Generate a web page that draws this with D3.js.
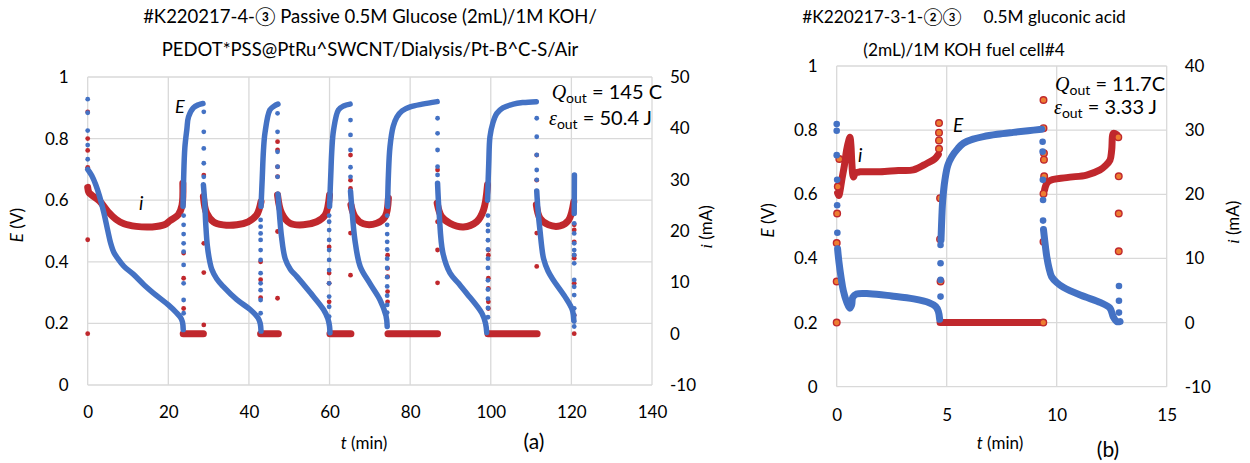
<!DOCTYPE html>
<html>
<head>
<meta charset="utf-8">
<script src="https://cdn.jsdelivr.net/npm/d3@7"></script>
<style>
  body { margin: 0; background: #fff; }
  svg text { font-family: Lato, "Open Sans", "DejaVu Sans", sans-serif; fill: #000; }
</style>
</head>
<body>
<div id="svg_chart"></div>
<script>
///////////// Chapter 1. Data //////////////
// panel (a): glucose cell, t in min, E in V, i in mA
var a_time_ticks = [0, 20, 40, 60, 80, 100, 120, 140];
var a_e_ticks = [0, 0.2, 0.4, 0.6, 0.8, 1];
var a_i_ticks = [-10, 0, 10, 20, 30, 40, 50];
var a_title = ['#K220217-4-③ Passive 0.5M Glucose (2mL)/1M KOH/',
               'PEDOT*PSS@PtRu^SWCNT/Dialysis/Pt-B^C-S/Air'];
var a_q_out = '145 C';
var a_eps_out = '50.4 J';

// dense stretches of the E series (discharge / open circuit)
var a_e_curves = [
  [[0,0.70],[1,0.68],[2,0.65],[3,0.61],[4,0.56],[5,0.50],[5.7,0.46],[6.5,0.43],[7.5,0.41],[9,0.385],[11.3,0.36],[14,0.325],[17.1,0.29],[20,0.26],[22,0.235],[23,0.22],[23.5,0.205],[23.7,0.18]],
  [[23.65,0.58],[23.8,0.67],[24.1,0.77],[24.6,0.83],[25,0.87],[26.2,0.90],[27.5,0.91],[28.6,0.914]],
  [[28.7,0.65],[29,0.6],[29.3,0.52],[29.7,0.45],[30.3,0.40],[30.8,0.375],[32,0.345],[33.6,0.32],[37,0.277],[40.3,0.245],[42.3,0.217],[42.8,0.2],[43,0.175]],
  [[43,0.58],[43.3,0.67],[43.6,0.76],[44,0.82],[45.2,0.893],[46.3,0.906],[47.2,0.912]],
  [[47.2,0.62],[47.6,0.55],[48.1,0.48],[49,0.41],[50.3,0.375],[51.9,0.352],[55.2,0.30],[58.5,0.245],[59.6,0.215],[60,0.19],[60.1,0.17]],
  [[60,0.58],[60.3,0.68],[60.6,0.77],[61,0.828],[62.2,0.893],[63.5,0.906],[65.1,0.912]],
  [[65.2,0.63],[65.5,0.58],[66.3,0.47],[67.6,0.385],[70,0.33],[72.5,0.277],[74,0.225],[74.3,0.19]],
  [[74.4,0.58],[74.6,0.68],[75,0.774],[75.8,0.84],[76.7,0.87],[78,0.89],[80,0.903],[83,0.912],[86.7,0.92]],
  [[86.8,0.655],[87.2,0.557],[88.1,0.43],[89.9,0.363],[92,0.33],[94,0.298],[97.8,0.233],[98.7,0.2],[99,0.17]],
  [[99.2,0.6],[99.5,0.72],[99.8,0.806],[100.5,0.85],[101.5,0.882],[103,0.9],[105.6,0.912],[108,0.917],[111.3,0.92]],
  [[111.4,0.63],[111.7,0.57],[112.2,0.503],[113.1,0.41],[114.2,0.37],[115.5,0.341],[118.4,0.287],[120.2,0.245],[120.6,0.21]],
  [[120.7,0.557],[120.75,0.682]]
];
// isolated E points at the switching moments
var a_e_dots = [
  [0,0.928],[0,0.884],[0,0.826],[0,0.779],[0,0.733],
  [23.8,0.55],[23.8,0.52],[23.8,0.49],[23.8,0.46],[23.8,0.433],[23.8,0.39],[23.8,0.33],[23.8,0.276],[23.8,0.233],
  [28.8,0.887],[28.8,0.822],[28.8,0.768],[28.8,0.72],[28.8,0.676],
  [42.9,0.536],[42.9,0.514],[42.9,0.492],[42.9,0.471],[42.9,0.438],[42.9,0.406],[42.9,0.363],[42.9,0.33],[42.9,0.308],[42.9,0.276],[42.9,0.233],
  [47.1,0.882],[47.1,0.822],[47.1,0.757],[47.1,0.709],[47.1,0.676],
  [59.9,0.55],[59.9,0.53],[59.9,0.503],[59.9,0.471],[59.9,0.438],[59.9,0.406],[59.9,0.373],[59.9,0.33],[59.9,0.287],[59.9,0.254],[59.9,0.222],
  [65.2,0.86],[65.2,0.812],[65.2,0.763],[65.2,0.707],[65.2,0.676],
  [74.3,0.55],[74.3,0.52],[74.3,0.49],[74.3,0.465],[74.3,0.44],[74.3,0.41],[74.3,0.38],[74.3,0.35],[74.3,0.32],[74.3,0.29],[74.3,0.26],[74.3,0.235],
  [86.8,0.866],[86.8,0.817],[86.8,0.763],[86.8,0.709],[86.8,0.682],
  [99.3,0.55],[99.3,0.52],[99.3,0.5],[99.3,0.47],[99.3,0.44],[99.3,0.41],[99.3,0.38],[99.3,0.34],[99.3,0.31],[99.3,0.28],[99.3,0.25],[99.3,0.22],
  [111.4,0.866],[111.4,0.806],[111.4,0.747],[111.4,0.698],[111.4,0.666],
  [120.7,0.525],[120.7,0.492],[120.7,0.46],[120.7,0.438],[120.7,0.422],[120.7,0.395],[120.7,0.341],[120.7,0.319],[120.7,0.292],[120.7,0.249],[120.7,0.227],[120.7,0.206],[120.7,0.19]
];
var a_i_curves = [
  [[0,28.5],[0.3,27.5],[1,27],[3,25.8],[5,23.8],[7,22.3],[9,21.4],[12,20.9],[16,20.8],[19,21.2],[20.4,22],[22.5,23.2],[23.4,25],[23.6,29.3]],
  [[23.7,0],[28.7,0]],
  [[28.7,26.7],[29.5,23.5],[31.2,21.8],[33.6,21.2],[37,21.2],[39.8,21.8],[41.9,23.1],[43,25.7]],
  [[42.9,0],[47.3,0]],
  [[47.1,27],[48.1,23.5],[50.2,21.5],[53.5,21.2],[56.8,21.8],[58.9,23.1],[60,27]],
  [[60.1,0],[65.3,0]],
  [[65.3,25.1],[66.3,22.8],[68.4,21.4],[71.7,21.5],[73.8,22.8],[74.6,26.4]],
  [[74.5,0],[86.8,0]],
  [[86.7,25.4],[87.8,22.8],[89.9,21.5],[93.2,20.8],[96.5,21.8],[98.2,24.1],[99.2,29]],
  [[99.3,0],[111.5,0]],
  [[111.3,25.1],[112.2,22.5],[114.3,21.2],[117.2,21],[119.3,22.1],[120.6,25.7]]
];
var a_i_dots = [
  [0,43.2],[0,38],[0,35.7],[0,32.4],[0,18.3],[0,0],
  [23.8,15.7],[23.8,10.8],[23.8,4.9],
  [28.8,30.9],[28.8,17.6],[28.8,11.9],[28.8,1.7],
  [42.9,14],[42.9,10.5],[42.9,7],
  [47.1,37.4],[47.1,35.8],[47.1,32.5],[47.1,30.6],[47.1,19.9],[47.1,6.9],
  [59.9,16.9],[59.9,11.8],[59.9,9.8],[59.9,6.2],
  [65.2,34.8],[65.2,29.9],[65.2,28.3],[65.2,19.6],[65.2,11.4],
  [74.4,15.3],[74.4,12.7],[74.4,11.1],[74.4,8.2],[74.4,6.2],
  [86.8,31.9],[86.8,21.8],[86.8,16.3],[86.8,9.9],
  [99.4,16.3],[99.4,15.3],[99.4,10.8],[99.4,8.8],[99.4,6.2],[99.4,4.9],
  [111.4,34.8],[111.4,29.9],[111.4,19.6],[111.4,13.1],
  [120.7,21.2],[120.7,20.2],[120.7,17.9],[120.7,15.3],[120.7,14.7],[120.7,9.8],[120.7,3.6],[120.7,0]
];

// panel (b): gluconic acid cell
var b_time_ticks = [0, 5, 10, 15];
var b_e_ticks = [0, 0.2, 0.4, 0.6, 0.8, 1];
var b_i_ticks = [-10, 0, 10, 20, 30, 40];
var b_title = ['#K220217-3-1-②③\u00a0\u00a0\u00a0\u00a0 0.5M gluconic acid',
               '(2mL)/1M KOH fuel cell#4'];
var b_q_out = '11.7C';
var b_eps_out = '3.33 J';

var b_e_curves = [
  [[0.04,0.43],[0.1,0.39],[0.2,0.34],[0.3,0.30],[0.45,0.265],[0.6,0.245],[0.68,0.255],[0.73,0.279],[0.9,0.289],[1.5,0.29],[2.5,0.283],[3.5,0.274],[4.2,0.262],[4.5,0.25],[4.62,0.235],[4.68,0.21]],
  [[4.74,0.457],[4.78,0.53],[4.82,0.582],[4.92,0.645],[5.05,0.69],[5.23,0.717],[5.5,0.742],[5.76,0.759],[6.2,0.772],[6.67,0.78],[7.3,0.787],[8.03,0.793],[8.7,0.798],[9.32,0.803]],
  [[9.4,0.49],[9.5,0.43],[9.55,0.405],[9.65,0.37],[9.77,0.343],[10,0.325],[10.3,0.31],[11.1,0.285],[12,0.262],[12.42,0.245],[12.57,0.218],[12.73,0.203],[12.88,0.203]]
];
var b_e_dots = [
  [0,0.819],[0,0.798],[0,0.722],[0.02,0.645],[0.02,0.566],[0.03,0.48],
  [4.72,0.442],[4.72,0.385],[4.72,0.333],[4.72,0.281],
  [9.36,0.764],[9.36,0.733],[9.37,0.645],[9.38,0.582],[9.38,0.518],
  [12.83,0.314],[12.83,0.268],[12.83,0.231]
];
var b_i_curves = [
  [[0.04,20.2],[0.1,19.8],[0.15,20.5],[0.23,22.2],[0.35,24.5],[0.45,26.9],[0.55,28.4],[0.6,28.9],[0.65,27.5],[0.68,25.4],[0.76,22.7],[0.85,23.3],[1.06,23.5],[1.97,23.5],[2.8,23.7],[3.48,23.8],[4.09,24.8],[4.45,25.5],[4.62,26.2]],
  [[4.7,0],[9.39,0]],
  [[9.45,20.7],[9.62,22],[10.45,22.6],[11.36,23],[11.97,23.8],[12.2,24.4],[12.42,25.3],[12.5,26.9],[12.58,29.5],[12.73,29.3]]
];
var b_i_dots = [
  [0,0],[0,6.4],[0,12.4],[0.02,17],[0.05,21.2],[0.12,25.5],
  [4.65,31.1],[4.65,29.6],[4.65,28.4],[4.65,27.1],[4.7,19.4],[4.7,13],[4.72,6.4],
  [9.4,34.7],[9.4,30.3],[9.42,26.4],[9.42,25.4],[9.43,22.8],[9.4,20.1],[9.4,12.6],[9.39,0],
  [12.8,28.9],[12.82,22.8],[12.82,17],[12.82,11.1]
];
///////////// Chapter 1. End /////////////

///////////// Chapter 2. Canvas //////////////
const svg_width = 1250
const svg_height = 463
const blue = '#4472c4'
const red = '#c0282d'
const orange = '#ed7d31'

var svg = d3.select('#svg_chart').append('svg')
  .attr('width', svg_width)
  .attr('height', svg_height);

var panels = [
  {
    title: a_title, title_x: 370, title_size: 18.5, label: '(a)', label_x: 534, label_y: 449,
    x_domain: [0, 140], i_domain: [-10, 50],
    left: 87.7, right: 652, top: 77, bottom: 385,
    x_ticks: a_time_ticks, e_ticks: a_e_ticks, i_ticks: a_i_ticks,
    e_curves: a_e_curves, e_dots: a_e_dots, i_curves: a_i_curves, i_dots: a_i_dots,
    dot_r: 2.4, e_width: 5.5, i_width: 7, hollow: false,
    q: a_q_out, eps: a_eps_out, q_x: 662, eps_x: 652, q_y: 99, eps_y: 125,
    e_lab: [175, 113, 18], i_lab: [139, 210],
    e_title_x: 17, i_title_x: 706, t_title_x: 364, x_pad: 21
  },
  {
    title: b_title, title_x: 964, title_size: 17.3, label: '(b)', label_x: 1108, label_y: 457,
    x_domain: [0, 15], i_domain: [-10, 40],
    left: 836.7, right: 1166.7, top: 66, bottom: 386.7,
    x_ticks: b_time_ticks, e_ticks: b_e_ticks, i_ticks: b_i_ticks,
    e_curves: b_e_curves, e_dots: b_e_dots, i_curves: b_i_curves, i_dots: b_i_dots,
    dot_r: 3.3, e_width: 7, i_width: 7, hollow: true,
    q: b_q_out, eps: b_eps_out, q_x: 1165, eps_x: 1157, q_y: 91, eps_y: 114,
    e_lab: [953, 132, 19], i_lab: [858, 162],
    e_title_x: 768, i_title_x: 1233, t_title_x: 1000, x_pad: 22
  }
];
///////////// Chapter 2. End /////////////

///////////// Chapter 3. Drawing //////////////
function draw_panel(p){
  var g = svg.append('g');
  var x = d3.scaleLinear().domain(p.x_domain).range([p.left, p.right]);
  var y_e = d3.scaleLinear().domain([0, 1]).range([p.bottom, p.top]);
  var y_i = d3.scaleLinear().domain(p.i_domain).range([p.bottom, p.top]);

  // gridlines
  g.append('g').selectAll('line').data(p.x_ticks).join('line')
    .attr('x1', d => x(d)).attr('x2', d => x(d))
    .attr('y1', p.top).attr('y2', p.bottom)
    .attr('stroke', '#d9d9d9').attr('stroke-width', 1.3);
  g.append('g').selectAll('line').data(p.e_ticks).join('line')
    .attr('x1', p.left).attr('x2', p.right)
    .attr('y1', d => y_e(d)).attr('y2', d => y_e(d))
    .attr('stroke', '#d9d9d9').attr('stroke-width', 1.3);

  // tick labels
  var fmt = d => String(d);
  g.append('g').attr('transform', `translate(${p.left},0)`)
    .call(d3.axisLeft(y_e).tickValues(p.e_ticks).tickSize(0).tickPadding(19).tickFormat(fmt))
    .attr('font-size', 17)
    .call(a => a.select('.domain').remove());
  g.append('g').attr('transform', `translate(${p.right},0)`)
    .call(d3.axisRight(y_i).tickValues(p.i_ticks).tickSize(0).tickPadding(18).tickFormat(fmt))
    .attr('font-size', 17)
    .call(a => a.select('.domain').remove());
  g.append('g').attr('transform', `translate(0,${p.bottom})`)
    .call(d3.axisBottom(x).tickValues(p.x_ticks).tickSize(0).tickPadding(p.x_pad).tickFormat(fmt))
    .attr('font-size', 17)
    .call(a => a.select('.domain').remove());

  // i series first, E on top
  var line_i = d3.line().x(d => x(d[0])).y(d => y_i(d[1])).curve(d3.curveCatmullRom.alpha(0.5));
  var line_e = d3.line().x(d => x(d[0])).y(d => y_e(d[1])).curve(d3.curveCatmullRom.alpha(0.5));

  g.append('g').selectAll('path').data(p.i_curves).join('path')
    .attr('d', line_i).attr('fill', 'none').attr('stroke', red)
    .attr('stroke-width', p.i_width).attr('stroke-linecap', 'round').attr('stroke-linejoin', 'round');
  g.append('g').selectAll('circle').data(p.i_dots).join('circle')
    .attr('cx', d => x(d[0])).attr('cy', d => y_i(d[1])).attr('r', p.dot_r)
    .attr('fill', p.hollow ? orange : red)
    .attr('stroke', p.hollow ? red : 'none').attr('stroke-width', 1.4);

  g.append('g').selectAll('path').data(p.e_curves).join('path')
    .attr('d', line_e).attr('fill', 'none').attr('stroke', blue)
    .attr('stroke-width', p.e_width).attr('stroke-linecap', 'round').attr('stroke-linejoin', 'round');
  g.append('g').selectAll('circle').data(p.e_dots).join('circle')
    .attr('cx', d => x(d[0])).attr('cy', d => y_e(d[1])).attr('r', p.dot_r)
    .attr('fill', blue);

  // title
  g.append('g').selectAll('text').data(p.title).join('text')
    .attr('x', p.title_x).attr('y', (d, k) => 23 + k * 33)
    .attr('text-anchor', 'middle').attr('font-size', p.title_size)
    .text(d => d);

  // axis titles
  var mid = (p.top + p.bottom) / 2;
  var te = g.append('text').attr('transform', `translate(${p.e_title_x + 6},${mid - 6}) rotate(-90)`)
    .attr('text-anchor', 'middle').attr('font-size', 17);
  te.append('tspan').attr('font-style', 'italic').text('E');
  te.append('tspan').text(' (V)');
  var ti = g.append('text').attr('transform', `translate(${p.i_title_x + 6},${mid - 4}) rotate(-90)`)
    .attr('text-anchor', 'middle').attr('font-size', 17);
  ti.append('tspan').attr('font-style', 'italic').attr('font-family', 'Liberation Serif').text('i');
  ti.append('tspan').text(' (mA)');
  var tt = g.append('text').attr('x', p.t_title_x).attr('y', 449)
    .attr('text-anchor', 'middle').attr('font-size', 17);
  tt.append('tspan').attr('font-style', 'italic').text('t');
  tt.append('tspan').text(' (min)');
  g.append('text').attr('x', p.label_x).attr('y', p.label_y)
    .attr('text-anchor', 'middle').attr('font-size', 21).text(p.label);

  // series labels
  g.append('text').attr('x', p.e_lab[0]).attr('y', p.e_lab[1])
    .attr('font-size', p.e_lab[2]).attr('font-style', 'italic').text('E');
  g.append('text').attr('x', p.i_lab[0]).attr('y', p.i_lab[1])
    .attr('font-size', 19).attr('font-style', 'italic').attr('font-family', 'Liberation Serif').text('i');

  // output charge / energy
  var q = g.append('text').attr('x', p.q_x).attr('y', p.q_y)
    .attr('text-anchor', 'end').attr('font-size', 20);
  q.append('tspan').attr('font-style', 'italic').attr('font-family', 'Liberation Serif').text('Q');
  q.append('tspan').attr('font-size', 14).attr('dy', 4).text('out');
  q.append('tspan').attr('dy', -4).text(' = ' + p.q);
  var e = g.append('text').attr('x', p.eps_x).attr('y', p.eps_y)
    .attr('text-anchor', 'end').attr('font-size', 20);
  e.append('tspan').attr('font-style', 'italic').attr('font-family', 'Liberation Serif').text('ε');
  e.append('tspan').attr('font-size', 14).attr('dy', 4).text('out');
  e.append('tspan').attr('dy', -4).text(' = ' + p.eps);
}

panels.forEach(draw_panel);
///////////// Chapter 3. End /////////////
</script>
</body>
</html>
